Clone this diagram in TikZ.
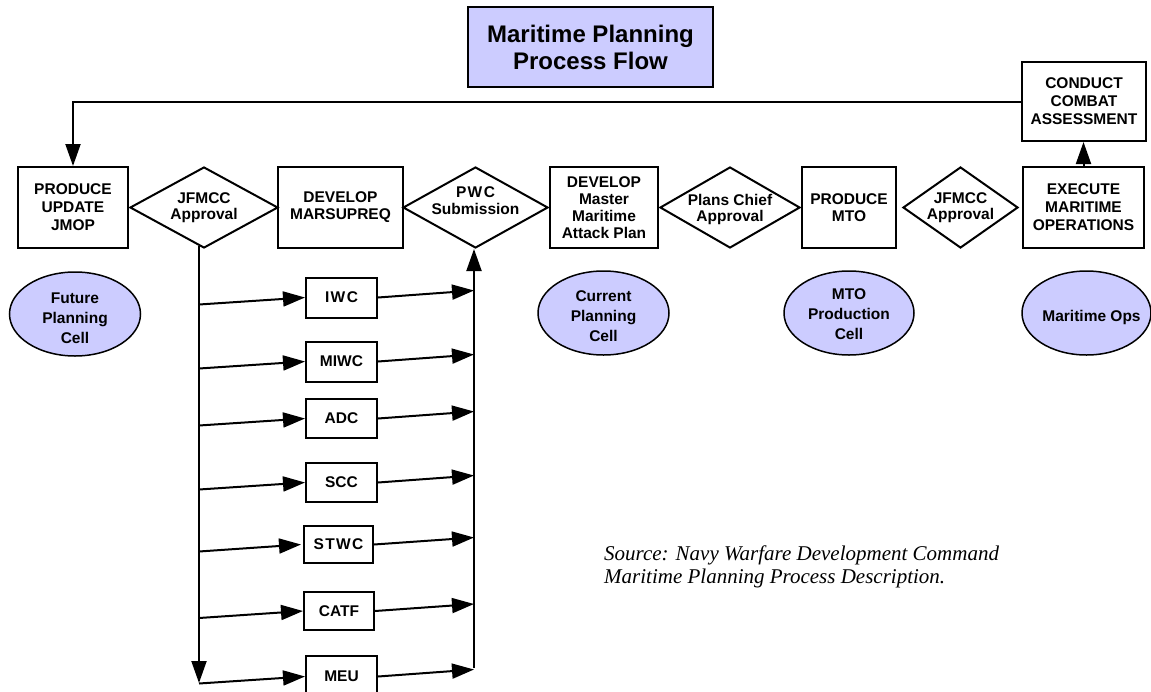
\documentclass[tikz,border=0pt]{standalone}
\usepackage{fontspec}
\setmainfont{Liberation Sans}
\newfontfamily\srcfont{Liberation Serif}
\newfontfamily\widefont[LetterSpace=9]{Liberation Sans}
\usetikzlibrary{arrows.meta,shapes.geometric}
\definecolor{lav}{RGB}{204,204,255}

\tikzset{
  lbl/.style={align=center, inner sep=0pt, font=\bfseries\fontsize{15.5}{18}\selectfont},
  tight/.style={lbl, font=\bfseries\fontsize{15.5}{16.5}\selectfont},
  celltext/.style={lbl, font=\bfseries\fontsize{15.5}{20}\selectfont},
  box/.style={lbl, draw, line width=2pt, minimum height=81pt},
  smallbox/.style={lbl, draw, line width=2pt, minimum width=71pt, minimum height=40pt},
  dia/.style={diamond, draw, line width=2pt, inner sep=0pt, minimum height=81pt},
  cell/.style={ellipse, draw, line width=1.5pt, fill=lav, inner sep=0pt,
               minimum width=131pt, minimum height=84pt},
  flow/.style={line width=2pt, -{Triangle[length=22pt,width=15pt]}},
}

\begin{document}
\begin{tikzpicture}[x=1pt,y=-1pt]
\useasboundingbox (0,0) rectangle (1151,691);

% title
\node[lbl, draw, fill=lav, line width=2pt, minimum width=245pt, minimum height=80pt,
      font=\bfseries\fontsize{24}{27}\selectfont] (title) at (590.5,47) {Maritime Planning\\Process Flow};

% main process row
\node[box, minimum width=110pt] (pro) at (73,207.5) {PRODUCE\\UPDATE\\JMOP};
\node[dia, minimum width=148pt] (jf1) at (204,207.5) {};
\node[tight] at (jf1) {JFMCC\\Approval};
\node[box, minimum width=125pt, font=\bfseries\fontsize{15.5}{17}\selectfont] (dev) at (340.5,207.5) {DEVELOP\\MARSUPREQ};
\node[dia, minimum width=145pt] (pwc) at (475.5,207.5) {};
\node[tight] at ([yshift=7pt]pwc) {{\widefont\bfseries PWC}\\Submission};
\node[box, minimum width=108pt, font=\bfseries\fontsize{15.5}{17}\selectfont] (dmm) at (604,207.5) {DEVELOP\\Master\\Maritime\\Attack Plan};
\node[dia, minimum width=140pt] (pc) at (730,207.5) {};
\node[tight] at ([yshift=-2pt]pc) {Plans Chief\\Approval};
\node[box, minimum width=94pt, font=\bfseries\fontsize{15.5}{16.5}\selectfont] (mto) at (849,207.5) {PRODUCE\\MTO};
\node[dia, minimum width=115pt] (jf2) at (960.5,207.5) {};
\node[tight] at (jf2) {JFMCC\\Approval};
\node[box, minimum width=121pt] (exe) at (1083.5,207.5) {EXECUTE\\MARITIME\\OPERATIONS};
\node[box, minimum width=124pt, minimum height=79pt] (cca) at (1084,101.5) {CONDUCT\\COMBAT\\ASSESSMENT};

% loop back and assessment
\draw[flow] (cca.west) -| (pro.north);
\draw[flow] (exe.north) -- (exe.north |- cca.south);

% planning cells
\node[cell] (fpc) at (75,314) {};
\node[celltext] at ([yshift=-4pt]fpc) {Future\\Planning\\Cell};
\node[cell] (cpc) at (603.5,313) {};
\node[celltext] at ([yshift=-3pt]cpc) {Current\\Planning\\Cell};
\node[cell, minimum width=130pt] (mpc) at (849,313) {};
\node[celltext] at ([yshift=-1pt]mpc) {MTO\\Production\\Cell};
\node[cell, minimum width=129pt] (mops) at (1086.5,313) {};
\node[lbl] at ([xshift=5pt,yshift=-4pt]mops) {Maritime Ops};

% warfare commanders
\node[smallbox] (iwc)  at (341.5,297.5) {\widefont\bfseries IWC};
\node[smallbox] (miwc) at (341.5,361.5) {MIWC};
\node[smallbox, minimum height=39pt] (adc)  at (341.5,418.5) {ADC};
\node[smallbox, minimum height=39pt] (scc)  at (341.5,482.5) {SCC};
\node[smallbox, minimum width=69pt, minimum height=37pt] (stwc) at (338.5,544.5) {\widefont\bfseries STWC};
\node[smallbox, minimum width=70pt, minimum height=38pt] (catf) at (339,611) {CATF};
\node[smallbox, minimum height=41pt] (meu)  at (341.5,676.5) {MEU};

% distribution bus (left) and collection bus (right)
\coordinate (ltop) at (199,246);
\coordinate (lbot) at (199,683);
\coordinate (rbot) at (474,668);
\draw[flow] (ltop) -- (lbot);
\draw[flow] (rbot) -- (rbot |- pwc.south);

\foreach \n/\xs in {iwc/0,miwc/0,adc/0,scc/0,stwc/2,catf/0,meu/0}{
  \coordinate (\n-in) at ([yshift=-7pt]ltop |- \n.west);
  \coordinate (\n-out) at ([yshift=7pt]rbot |- \n.east);
  \draw[flow] (\n-in) -- ([xshift=-\xs pt]\n.west);
  \draw[flow] (\n.east) -- (\n-out);
}

% source note
\node[anchor=base west, align=left, inner sep=0pt,
      font=\srcfont\itshape\fontsize{21}{23}\selectfont] (src) at (604,583)
  {Source: Navy Warfare Development Command\\Maritime Planning Process Description.};
\end{tikzpicture}
\end{document}
